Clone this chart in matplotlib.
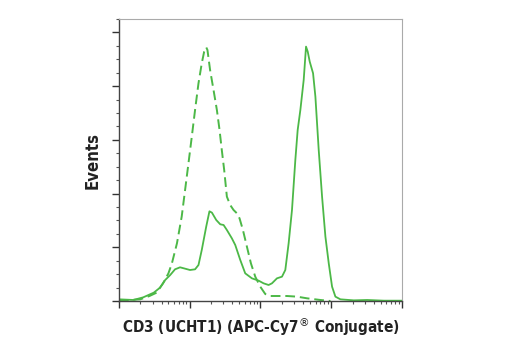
import matplotlib
matplotlib.use('Agg')
import matplotlib.pyplot as plt
from matplotlib.ticker import LogLocator, MultipleLocator, NullFormatter

plt.rcParams['font.family'] = ['DejaVu Sans']

GREEN = '#4cb847'

# CD3 stained (solid)
stained_x = [10, 16, 22, 31, 38, 45, 53, 62, 73, 86, 101, 119, 133, 148, 171, 190,
             206, 237, 270, 301, 335, 394, 440, 518, 609, 757, 941, 1107, 1303, 1453,
             1711, 2014, 2244, 2501, 2790, 3111, 3357, 3664, 4084, 4406, 4655, 4967,
             5538, 5975, 6657, 7425, 8279, 9230, 10280, 11460, 13490, 20840, 32200,
             55460, 99000]
stained_y = [0.031, 0.019, 0.068, 0.155, 0.248, 0.391, 0.484, 0.590, 0.627, 0.602,
             0.577, 0.590, 0.670, 0.950, 1.384, 1.670, 1.645, 1.508, 1.428, 1.415,
             1.322, 1.167, 1.043, 0.764, 0.515, 0.422, 0.379, 0.329, 0.298, 0.329,
             0.422, 0.453, 0.577, 1.074, 1.695, 2.626, 3.184, 3.557, 4.116, 4.736,
             4.643, 4.457, 4.240, 3.805, 2.812, 1.943, 1.198, 0.701, 0.267, 0.081,
             0.031, 0.012, 0.019, 0.006, 0.006]

# control (dashed)
control_x = [10, 20, 27, 34, 42, 50, 56, 66, 77, 86, 96, 107, 119, 133, 148, 160,
             171, 178, 194, 217, 242, 264, 284, 307, 335, 373, 416, 464, 506, 565,
             643, 733, 844, 993, 1169, 1377, 1711, 2371, 3289, 4550, 7031, 9747]
control_y = [0.006, 0.031, 0.093, 0.155, 0.329, 0.515, 0.701, 1.074, 1.570, 2.067,
             2.564, 3.060, 3.557, 4.053, 4.426, 4.643, 4.724, 4.674, 4.302, 3.929,
             3.557, 3.184, 2.812, 2.439, 1.943, 1.788, 1.695, 1.633, 1.539, 1.322,
             1.012, 0.701, 0.453, 0.267, 0.130, 0.093, 0.093, 0.093, 0.081, 0.050,
             0.019, 0.0]

fig = plt.figure(figsize=(5.2, 3.5), dpi=100)
ax = fig.add_axes([0.2288, 0.14, 0.5442, 0.8057])

ax.plot(control_x, control_y, color=GREEN, lw=1.4, ls=(0, (5, 2.5)))
ax.plot(stained_x, stained_y, color=GREEN, lw=1.3)

ax.set_xscale('log')
ax.set_xlim(10, 1e5)
ax.set_ylim(0, 5.25)

ax.xaxis.set_major_locator(LogLocator(base=10, numticks=10))
ax.xaxis.set_minor_locator(LogLocator(base=10, subs=range(2, 10), numticks=20))
ax.xaxis.set_major_formatter(NullFormatter())
ax.xaxis.set_minor_formatter(NullFormatter())
ax.yaxis.set_major_locator(MultipleLocator(1))
ax.yaxis.set_minor_locator(MultipleLocator(0.25))
ax.yaxis.set_major_formatter(NullFormatter())

ax.tick_params(which='major', direction='out', length=5, width=1, color='#333333')
ax.tick_params(which='minor', direction='out', length=2.5, width=0.8, color='#555555')

for s in ('left', 'bottom'):
    ax.spines[s].set_color('#444444')
    ax.spines[s].set_linewidth(1.0)
for s in ('top', 'right'):
    ax.spines[s].set_color('#aaaaaa')
    ax.spines[s].set_linewidth(0.8)

ax.set_ylabel('Events', fontsize=12, fontweight='bold', fontstretch='condensed',
              color='#222222', labelpad=4)
ax.set_xlabel('CD3 (UCHT1) (APC-Cy7$^{\\circledR}$ Conjugate)', fontsize=11,
              fontweight='bold', fontstretch='condensed', color='#222222', labelpad=2)

fig.savefig('out.png', dpi=100)
